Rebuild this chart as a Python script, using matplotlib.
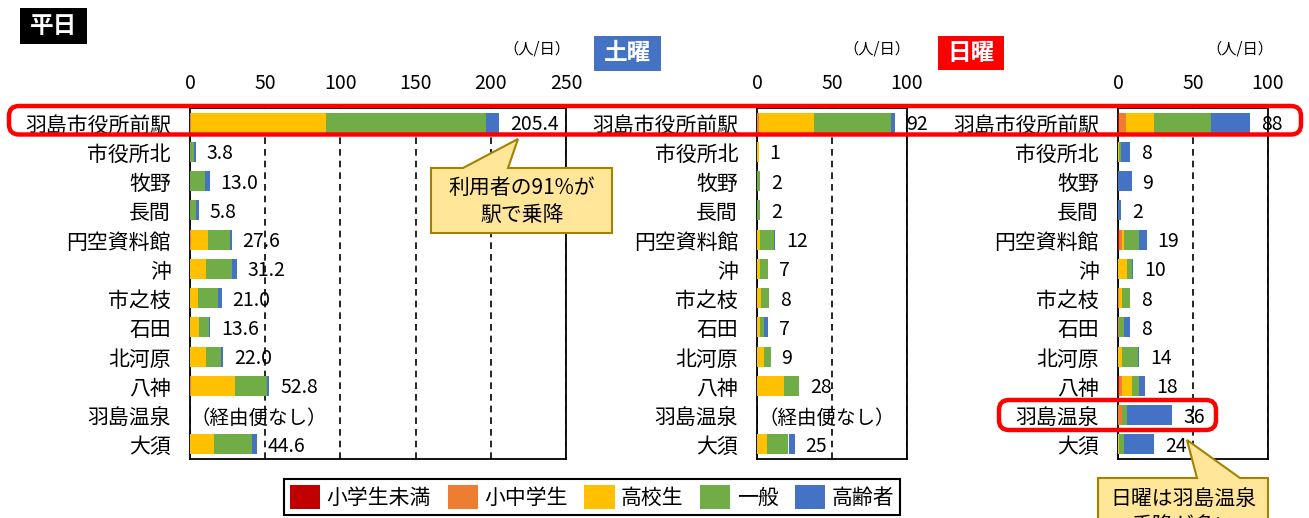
import numpy as np
import matplotlib.pyplot as plt
from matplotlib.patches import Rectangle, FancyBboxPatch, Polygon, Patch

plt.rcParams['font.family'] = ['Noto Sans CJK JP', 'DejaVu Sans']

W, H = 1309, 518

stations = ['羽島市役所前駅', '市役所北', '牧野', '長間', '円空資料館', '沖',
            '市之枝', '石田', '北河原', '八神', '羽島温泉', '大須']
categories = ['小学生未満', '小中学生', '高校生', '一般', '高齢者']
colors = ['#C00000', '#ED7D31', '#FFC000', '#70AD47', '#4472C4']

nan = np.nan

# 平日 (人/日)
wd_infant = [0, 0, 0, 0, 0, 0, 0, 0, 0, 0, nan, 0]
wd_student = [0.5, 0, 0, 0, 0.5, 0, 0, 0, 0, 0.7, nan, 0]
wd_high = [90.0, 0, 0, 0, 11.3, 10.8, 5.3, 6.0, 10.6, 29.4, nan, 16.0]
wd_general = [106.3, 2.8, 10.3, 4.2, 14.6, 16.8, 13.6, 6.4, 10.2, 21.3, nan, 25.1]
wd_elderly = [8.6, 1.0, 2.7, 1.6, 1.2, 3.6, 2.1, 1.2, 1.2, 1.4, nan, 3.5]

# 土曜
sa_infant = [0, 0, 0, 0, 0, 0, 0, 0, 0, 0, nan, 0]
sa_student = [1.0, 0, 0, 0, 0, 0, 0, 0, 0, 0, nan, 0]
sa_high = [37.0, 1, 0, 0, 1.7, 1.7, 2.8, 1.7, 4.7, 17.8, nan, 6.7]
sa_general = [51.6, 0, 2, 2, 9.6, 5.3, 5.2, 3.1, 4.3, 10.2, nan, 14.3]
sa_elderly = [2.4, 0, 0, 0, 0.7, 0, 0, 2.2, 0, 0, nan, 4.0]

# 日曜
su_infant = [0.6, 0, 0, 0, 0.9, 0, 0, 0, 0, 0.4, 0, 0]
su_student = [5.0, 0, 0, 0, 1.5, 0, 0.9, 0.7, 0, 2.2, 2.5, 0]
su_high = [18.2, 0.7, 0, 0, 1.3, 6.1, 2.0, 0, 2.9, 7.0, 0, 0.7]
su_general = [38.4, 1.4, 0, 0, 10.2, 3.0, 5.1, 3.2, 10.2, 4.1, 3.2, 3.1]
su_elderly = [25.8, 5.9, 9, 2, 5.1, 0.9, 0, 4.1, 0.9, 4.3, 30.3, 20.2]

weekday = [wd_infant, wd_student, wd_high, wd_general, wd_elderly]
saturday = [sa_infant, sa_student, sa_high, sa_general, sa_elderly]
sunday = [su_infant, su_student, su_high, su_general, su_elderly]


def fig_xy(x, y):
    return x / W, 1 - y / H


def draw_panel(ax, series, xmax, step, fmt):
    y = np.arange(len(stations))
    left = np.zeros(len(stations))
    for vals, c in zip(series, colors):
        v = np.nan_to_num(np.array(vals, dtype=float))
        ax.barh(y, v, left=left, height=0.68, color=c, linewidth=0, zorder=3)
        left += v
    totals = np.array(series, dtype=float).sum(axis=0)
    for i, t in enumerate(totals):
        if np.isnan(t):
            ax.annotate('（経由便なし）', (0, i), xytext=(1, -3), textcoords='offset pixels',
                        ha='left', va='center', fontsize=14, zorder=5)
        else:
            ax.annotate(format(t, fmt), (t, i), xytext=(11, -2), textcoords='offset pixels',
                        ha='left', va='center', fontsize=14, zorder=5,
                        annotation_clip=False)
    ax.set_xlim(0, xmax)
    ax.set_ylim(len(stations) - 0.5, -0.5)
    ax.set_xticks(np.arange(0, xmax + 1, step))
    ax.xaxis.tick_top()
    ax.tick_params(axis='x', length=0, pad=10, labelsize=14)
    ax.set_yticks([])
    ax.grid(axis='x', color='black', linestyle=(0, (4, 3)), linewidth=1.2, zorder=1)
    for s in ax.spines.values():
        s.set_color('black')
        s.set_linewidth(1.3)
    for i, name in enumerate(stations):
        ax.annotate(name, (0, i), xycoords=('axes fraction', 'data'),
                    xytext=(-19, -3), textcoords='offset pixels',
                    ha='right', va='center', fontsize=15)


fig = plt.figure(figsize=(W / 100, H / 100), dpi=100)

ax1 = fig.add_axes([190 / W, 1 - 459 / H, 376 / W, 351 / H])
ax2 = fig.add_axes([757 / W, 1 - 459 / H, 150 / W, 351 / H])
ax3 = fig.add_axes([1118 / W, 1 - 459 / H, 150 / W, 351 / H])

draw_panel(ax1, weekday, 250, 50, '.1f')
draw_panel(ax2, saturday, 100, 50, '.0f')
draw_panel(ax3, sunday, 100, 50, '.0f')

tr = fig.dpi_scale_trans


def px_rect(x0, y0, x1, y1, **kw):
    return Rectangle((x0 / 100, (H - y1) / 100), (x1 - x0) / 100, (y1 - y0) / 100,
                     transform=tr, **kw)


# day titles
for (x0, y0, x1, y1), txt, bg in [((20, 8, 87, 44), '平日', 'black'),
                                  ((594, 36, 661, 71), '土曜', '#4472C4'),
                                  ((938, 36, 1004, 70), '日曜', '#FF0000')]:
    fig.patches.append(px_rect(x0, y0, x1, y1, facecolor=bg, edgecolor='none'))
    fig.text(*fig_xy((x0 + x1) / 2, (y0 + y1) / 2), txt, color='white', fontsize=17,
             fontweight='bold', ha='center', va='center')

for xc in (537, 877, 1240):
    fig.text(*fig_xy(xc, 49), '（人/日）', fontsize=11, ha='center', va='center')

# highlight frames
for x0, y0, x1, y1 in [(9, 106, 1301, 134.5), (999, 400, 1216, 430)]:
    fig.patches.append(FancyBboxPatch((x0 / 100, (H - y1) / 100), (x1 - x0) / 100,
                                      (y1 - y0) / 100, boxstyle='round,pad=0,rounding_size=0.1',
                                      transform=tr, facecolor='none', edgecolor='#FF0000',
                                      linewidth=3.2, zorder=10))


def callout(pts, text_lines, cx, ys):
    verts = [(x / 100, (H - y) / 100) for x, y in pts]
    fig.patches.append(Polygon(verts, closed=True, transform=tr, facecolor='#FFE699',
                               edgecolor='#A68000', linewidth=1.5, zorder=11))
    for t, yy in zip(text_lines, ys):
        fig.text(*fig_xy(cx, yy), t, fontsize=15, ha='center', va='center', zorder=12)


callout([(431, 168), (463, 168), (518, 139), (508, 168), (612, 168), (612, 233), (431, 233)],
        ['利用者の91%が', '駅で乗降'], 522, [188, 215])
callout([(1098, 478), (1197, 478), (1187, 440), (1240, 478), (1268, 478), (1268, 560),
         (1098, 560)],
        ['日曜は羽島温泉', '乗降が多い'], 1183, [499, 526])

handles = [Patch(facecolor=c, edgecolor='none', label=l) for c, l in zip(colors, categories)]
leg = fig.legend(handles=handles, loc='upper left', bbox_to_anchor=fig_xy(284, 479),
                 ncol=5, fontsize=15, frameon=True, fancybox=False, framealpha=1,
                 handlelength=1.45, handleheight=1.35, handletextpad=0.3,
                 columnspacing=0.8, borderpad=0.3, borderaxespad=0)
leg.get_frame().set_edgecolor('black')
leg.get_frame().set_linewidth(1.5)

fig.savefig('out.png', dpi=100)
